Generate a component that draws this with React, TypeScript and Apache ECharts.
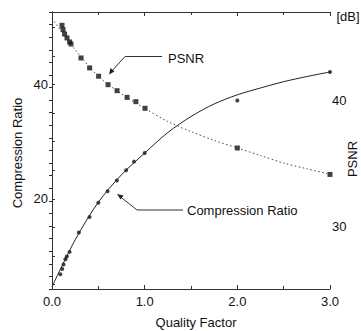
import React, { useEffect, useRef } from "react";
import * as echarts from "echarts";

// Quality factor / compression ratio measurements (left axis)
const crPoints: [number, number][] = [
  [0.09, 6.8], [0.11, 7.7], [0.125, 8.5], [0.145, 9.4], [0.16, 9.9], [0.19, 10.7],
  [0.29, 14.1], [0.405, 16.8], [0.5, 19.3], [0.6, 21.3], [0.7, 23.2], [0.8, 25.0],
  [0.885, 26.5], [1.0, 28.0], [2.0, 37.2], [3.0, 42.2],
];
// Fitted curve (left axis)
const crFit: [number, number][] = [
  [0, 4.6], [0.25, 12.8], [0.5, 19.4], [0.75, 24.2], [1.0, 28.0], [1.25, 31.6], [1.5, 34.4],
  [1.75, 36.6], [2.0, 38.2], [2.25, 39.4], [2.5, 40.5], [2.75, 41.4], [3.0, 42.2],
];
// PSNR measurements (right axis, dB)
const psnrPoints: [number, number][] = [
  [0.108, 45.94], [0.119, 45.6], [0.136, 45.25], [0.162, 44.94], [0.19, 44.62], [0.205, 44.46],
  [0.313, 43.35], [0.406, 42.56], [0.503, 41.9], [0.605, 41.23], [0.702, 40.75], [0.81, 40.22],
  [0.905, 39.88], [1.004, 39.35], [2.0, 36.2], [3.0, 34.1],
];
// PSNR fitted curve (right axis)
const psnrFit: [number, number][] = [
  [0, 46.5], [0.25, 44.0], [0.5, 41.9], [0.75, 40.5], [1.0, 39.35], [1.25, 38.3], [1.5, 37.5],
  [1.75, 36.8], [2.0, 36.2], [2.25, 35.6], [2.5, 35.0], [2.75, 34.55], [3.0, 34.1],
];

const leftLabels = [20, 40];
const leftTicks = [5, 10, 15, 20, 25, 30, 35, 40, 45, 50];
const rightLabels = [30, 40];
const rightTicks = [25, 26, 27, 28, 29, 30, 31, 32, 33, 34, 35, 36, 37, 38, 39, 40, 41, 42, 43, 44, 45, 46, 47];

const FONT = "'Liberation Sans', Arial, sans-serif";
const AX = "#333";

export default function App() {
  const ref = useRef<HTMLDivElement>(null);
  useEffect(() => {
    if (!ref.current) return;
    const chart = echarts.init(ref.current, undefined, { renderer: "svg" });
    const axisCommon = {
      axisLine: { show: true, lineStyle: { color: AX, width: 1 } },
      splitLine: { show: false },
    };
    chart.setOption({
      animation: false,
      backgroundColor: "#fff",
      grid: { left: 52, top: 12, width: 278, height: 277, containLabel: false },
      xAxis: [
        {
          type: "value", min: 0, max: 3, interval: 1, position: "bottom",
          ...axisCommon,
          axisTick: { inside: true, length: 4, lineStyle: { color: AX } },
          minorTick: { show: true, splitNumber: 2, length: 3, lineStyle: { color: AX } },
          axisLabel: { formatter: (v: number) => v.toFixed(1), fontSize: 13, color: "#111", fontFamily: FONT, margin: 6 },
        },
        {
          type: "value", min: 0, max: 3, interval: 1, position: "top",
          ...axisCommon,
          axisTick: { inside: true, length: 4, lineStyle: { color: AX } },
          minorTick: { show: true, splitNumber: 2, length: 3, lineStyle: { color: AX } },
          axisLabel: { show: false },
        },
      ],
      yAxis: [
        {
          type: "value", min: 4.2, max: 52.7, position: "left",
          ...axisCommon,
          axisTick: { inside: true, length: 3, customValues: leftTicks, lineStyle: { color: AX } },
          axisLabel: { customValues: leftLabels, fontSize: 13, color: "#111", fontFamily: FONT, margin: 4 },
        },
        {
          type: "value", min: 25, max: 47, position: "right",
          ...axisCommon,
          axisTick: { inside: true, length: 3, customValues: rightTicks, lineStyle: { color: AX } },
          axisLabel: { customValues: rightLabels, fontSize: 13, color: "#111", fontFamily: FONT, margin: 2 },
        },
      ],
      series: [
        {
          type: "line", data: crFit, yAxisIndex: 0, smooth: 0.3, showSymbol: false,
          lineStyle: { color: "#222", width: 1 }, silent: true,
        },
        {
          type: "scatter", data: crPoints, yAxisIndex: 0, symbol: "circle", symbolSize: 4,
          itemStyle: { color: "#111" },
        },
        {
          type: "line", data: psnrFit, yAxisIndex: 1, smooth: 0.3, showSymbol: false,
          lineStyle: { color: "#444", width: 1, type: [1.5, 2.5] }, silent: true,
        },
        {
          type: "scatter", data: psnrPoints, yAxisIndex: 1, symbol: "rect", symbolSize: 5,
          itemStyle: { color: "#111" },
        },
      ],
      graphic: [
        // PSNR annotation
        { type: "polyline", shape: { points: [[162, 56.5], [125, 56.5], [111, 72]] }, style: { stroke: "#333", lineWidth: 1, fill: null } },
        { type: "polygon", shape: { points: [[109, 74.5], [110.5, 68], [114.5, 71.5]] }, style: { fill: "#222" } },
        { type: "text", x: 168, y: 58, style: { text: "PSNR", font: `13px ${FONT}`, fill: "#111", verticalAlign: "middle" } },
        // Compression ratio annotation
        { type: "polyline", shape: { points: [[183, 210], [137, 210], [120, 196.5]] }, style: { stroke: "#333", lineWidth: 1, fill: null } },
        { type: "polygon", shape: { points: [[117, 194], [123.5, 195.5], [120.5, 199.5]] }, style: { fill: "#222" } },
        { type: "text", x: 187, y: 210, style: { text: "Compression Ratio", font: `13px ${FONT}`, fill: "#111", verticalAlign: "middle" } },
        // Axis names
        { type: "text", x: 17, y: 153, rotation: Math.PI / 2, style: { text: "Compression Ratio", font: `13px ${FONT}`, fill: "#111", align: "center", verticalAlign: "middle" } },
        { type: "text", x: 352, y: 159, rotation: Math.PI / 2, style: { text: "PSNR", font: `13px ${FONT}`, fill: "#111", align: "center", verticalAlign: "middle" } },
        { type: "text", x: 348, y: 16, style: { text: "[dB]", font: `13px ${FONT}`, fill: "#111", align: "center", verticalAlign: "middle" } },
        { type: "text", x: 196, y: 322, style: { text: "Quality Factor", font: `13px ${FONT}`, fill: "#111", align: "center", verticalAlign: "middle" } },
      ],
    });
    return () => chart.dispose();
  }, []);
  return <div ref={ref} style={{ position: "absolute", left: 0, top: 0, width: 361, height: 331 }} />;
}
